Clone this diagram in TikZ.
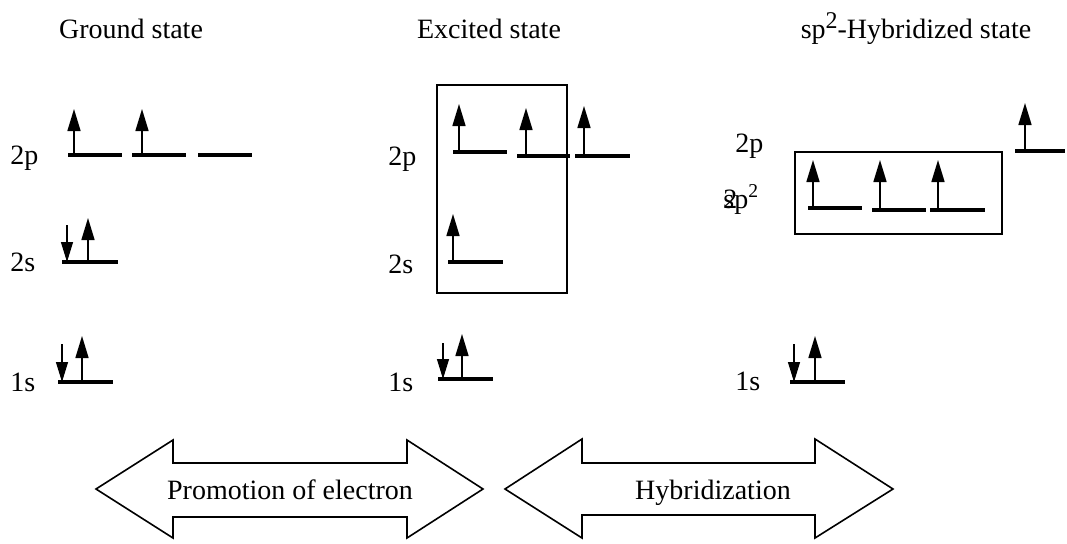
\documentclass[tikz,border=0pt]{standalone}
\usepackage{fontspec}
\setmainfont{Liberation Serif}
\usetikzlibrary{arrows.meta}

\begin{document}
\begin{tikzpicture}[x=0.5pt,y=-0.5pt,
  level/.style={line width=2pt},
  spinup/.style={line width=0.8pt,-{Triangle[length=11pt,width=6.5pt]}},
  spindown/.style={line width=0.6pt,-{Triangle[length=10pt,width=6pt]}},
  lbl/.style={font=\fontsize{14}{16}\selectfont,anchor=base west,inner sep=0pt},
  title/.style={font=\fontsize{14}{16}\selectfont,anchor=base,inner sep=0pt},
  frame/.style={line width=1pt},
  bigarrow/.style={line width=0.8pt,line join=miter}]
\useasboundingbox (0,0) rectangle (1067,543);

% titles
\node[title] (ground) at (131,38) {Ground state};
\node[title] (excited) at (489,38) {Excited state};
\node[title] (hybrid) at (916,38) {sp\raisebox{0.75ex}{\fontsize{12}{14}\selectfont 2}-Hybridized state};

% ground state
\node[lbl] (g2p) at (10,164) {2p};
\node[lbl] (g2s) at (10,271) {2s};
\node[lbl] (g1s) at (10,391) {1s};
\draw[level] (68,155) -- (122,155);
\draw[level] (132,155) -- (186,155);
\draw[level] (198,155) -- (252,155);
\draw[spinup] (74,155) -- (74,109);
\draw[spinup] (142,155) -- (142,109);
\draw[level] (62,262) -- (118,262);
\draw[spindown] (67,225) -- (67,262);
\draw[spinup] (88,262) -- (88,218);
\draw[level] (58,382) -- (113,382);
\draw[spindown] (62,344) -- (62,382);
\draw[spinup] (82,382) -- (82,336);

% excited state
\node[lbl] (e2p) at (388,165) {2p};
\node[lbl] (e2s) at (388,273) {2s};
\node[lbl] (e1s) at (388,391) {1s};
\draw[frame] (437,85) rectangle (567,293);
\draw[level] (453,152) -- (507,152);
\draw[level] (517,156) -- (570,156);
\draw[level] (575,156) -- (630,156);
\draw[spinup] (459,152) -- (459,104);
\draw[spinup] (526,156) -- (526,108);
\draw[spinup] (584,156) -- (584,106);
\draw[level] (448,262) -- (503,262);
\draw[spinup] (453,262) -- (453,214);
\draw[level] (438,379) -- (493,379);
\draw[spindown] (443,343) -- (443,379);
\draw[spinup] (462,379) -- (462,334);

% sp2 hybridized state
\node[lbl] (h2p) at (735,152) {2p};
\node[lbl] (hsp) at (723,208) {\rlap{2}sp\textsuperscript{2}};
\node[lbl] (h1s) at (735,390) {1s};
\draw[frame] (795,152) rectangle (1002,234);
\draw[level] (808,208) -- (862,208);
\draw[level] (872,210) -- (926,210);
\draw[level] (930,210) -- (985,210);
\draw[spinup] (813,208) -- (813,160);
\draw[spinup] (880,210) -- (880,160);
\draw[spinup] (938,210) -- (938,160);
\draw[level] (1015,151) -- (1065,151);
\draw[spinup] (1025,151) -- (1025,103);
\draw[level] (790,382) -- (845,382);
\draw[spindown] (794,344) -- (794,382);
\draw[spinup] (815,382) -- (815,336);

% double arrows
\draw[bigarrow] (96,489) -- (173,440) -- (173,463) -- (407,463) -- (407,440)
  -- (483,489) -- (407,538) -- (407,517) -- (173,517) -- (173,538) -- cycle;
\node[title] (promo) at (290,499) {Promotion of electron};
\draw[bigarrow] (505,489) -- (582,439) -- (582,463) -- (815,463) -- (815,439)
  -- (893,489) -- (815,538) -- (815,515) -- (582,515) -- (582,538) -- cycle;
\node[title] (hyb) at (713,499) {Hybridization};
\end{tikzpicture}
\end{document}
